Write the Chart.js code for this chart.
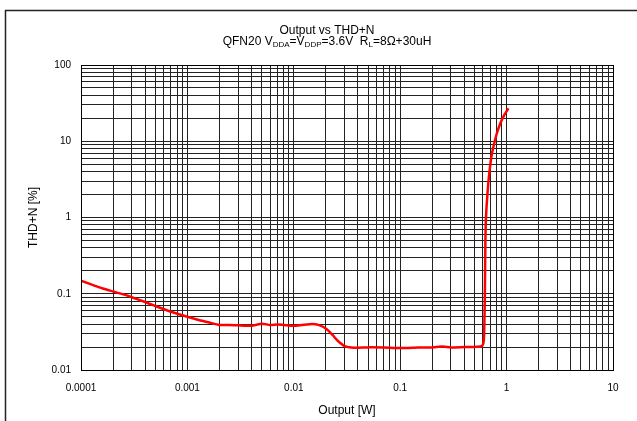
<!DOCTYPE html>
<html>
<head>
<meta charset="utf-8">
<script src="https://cdn.jsdelivr.net/npm/chart.js@4/dist/chart.umd.min.js"></script>
<style>
  html, body { margin: 0; padding: 0; background: #fff; }
  #wrap { width: 637px; height: 421px; position: relative; }
</style>
</head>
<body>
<div id="wrap"><canvas id="chart" width="637" height="421"></canvas></div>
<script>
const outputW = [0.0001, 0.00013, 0.00016, 0.0002, 0.00025, 0.0003, 0.0004, 0.0005, 0.0007, 0.001,
  0.0013, 0.0016, 0.002, 0.0025, 0.003, 0.004, 0.005, 0.006, 0.007, 0.008,
  0.01, 0.012, 0.015, 0.017, 0.02, 0.023, 0.026, 0.03, 0.035, 0.04,
  0.05, 0.07, 0.1, 0.15, 0.2, 0.25, 0.3, 0.4, 0.5, 0.58,
  0.605, 0.615, 0.625, 0.632, 0.64, 0.66, 0.69, 0.73, 0.8, 0.87, 0.95, 1.04];
const thdn = [0.148, 0.13, 0.117, 0.107, 0.098, 0.09, 0.078, 0.069, 0.058, 0.05,
  0.045, 0.042, 0.039, 0.039, 0.0385, 0.038, 0.0405, 0.039, 0.0395, 0.039,
  0.038, 0.039, 0.04, 0.039, 0.035, 0.029, 0.024, 0.0206, 0.0197, 0.0196,
  0.0198, 0.0197, 0.0194, 0.0197, 0.0198, 0.0203, 0.0198, 0.02, 0.0201, 0.0205,
  0.0225, 0.03, 0.1, 0.5, 1.0, 2.0, 4.0, 7.0, 12, 17, 22, 27];

const xDecades = [0.0001, 0.001, 0.01, 0.1, 1, 10];
const xTickLabels = ['0.0001', '0.001', '0.01', '0.1', '1', '10'];
const yDecades = [0.01, 0.1, 1, 10, 100];
const yTickLabels = ['0.01', '0.1', '1', '10', '100'];

const titleLine1 = 'Output vs THD+N';
// [text, isSubscript]
const titleLine2 = [['QFN20 V', false], ['DDA', true], ['=V', false], ['DDP', true],
  ['=3.6V  R', false], ['L', true], ['=8\u03A9+30uH', false]];

const FONT = '"Liberation Sans", Arial, sans-serif';

// 1..9 x 10^n grid ticks, labels only on the decades
function logTicks(decades, labels) {
  const ticks = [];
  decades.forEach((d, i) => {
    if (i === decades.length - 1) {
      ticks.push({ value: d, label: labels[i] });
      return;
    }
    for (let m = 1; m <= 9; m++) {
      ticks.push({ value: parseFloat((m * d).toPrecision(6)), label: m === 1 ? labels[i] : '' });
    }
  });
  return ticks;
}
const xTicks = logTicks(xDecades, xTickLabels);
const yTicks = logTicks(yDecades, yTickLabels);

const frame = {
  id: 'frame',
  beforeDraw(chart) {
    const c = chart.ctx;
    c.save();
    c.fillStyle = '#fff';
    c.fillRect(0, 0, chart.width, chart.height);
    c.strokeStyle = '#222';
    c.lineWidth = 1.5;
    c.strokeRect(5.5, 10.5, 700, 500);
    c.restore();
  },
  afterDraw(chart) {
    const c = chart.ctx;
    const a = chart.chartArea;
    c.save();
    c.strokeStyle = '#000';
    c.lineWidth = 1;
    c.strokeRect(Math.round(a.left) + 0.5, Math.round(a.top) + 0.5,
      Math.round(a.right - a.left), Math.round(a.bottom - a.top));

    // two-line title with subscripts
    const cx = 327;
    c.fillStyle = '#000';
    c.textBaseline = 'middle';
    c.textAlign = 'center';
    c.font = '12px ' + FONT;
    c.fillText(titleLine1, cx, 31);

    c.textAlign = 'left';
    let w = 0;
    titleLine2.forEach(([t, sub]) => {
      c.font = (sub ? '8px ' : '12px ') + FONT;
      w += c.measureText(t).width;
    });
    let x = cx - w / 2;
    titleLine2.forEach(([t, sub]) => {
      c.font = (sub ? '8px ' : '12px ') + FONT;
      c.fillText(t, x, sub ? 45 : 42);
      x += c.measureText(t).width;
    });
    c.restore();
  }
};

new Chart(document.getElementById('chart'), {
  type: 'scatter',
  data: {
    datasets: [{
      data: outputW.map((v, i) => ({ x: v, y: thdn[i] })),
      showLine: true,
      borderColor: '#ff0000',
      borderWidth: 2.5,
      pointRadius: 0,
      tension: 0.2
    }]
  },
  options: {
    responsive: false,
    animation: false,
    layout: { padding: { top: 65, right: 24, left: 0, bottom: 0 } },
    plugins: { legend: { display: false }, tooltip: { enabled: false } },
    scales: {
      x: {
        type: 'logarithmic',
        min: 0.0001,
        max: 10,
        afterBuildTicks: s => { s.ticks = xTicks.map(t => ({ value: t.value })); },
        afterFit: s => { s.height = 51; },
        grid: { color: '#222', lineWidth: 1, drawTicks: false },
        border: { display: false },
        ticks: {
          autoSkip: false,
          maxRotation: 0,
          padding: 12,
          color: '#000',
          font: { family: FONT, size: 10 },
          callback: (v, i) => xTicks[i] ? xTicks[i].label : ''
        },
        title: {
          display: true,
          text: 'Output [W]',
          color: '#000',
          font: { family: FONT, size: 12 },
          padding: { top: 0, bottom: 3 }
        }
      },
      y: {
        type: 'logarithmic',
        min: 0.01,
        max: 100,
        afterBuildTicks: s => { s.ticks = yTicks.map(t => ({ value: t.value })); },
        afterFit: s => { s.width = 81; },
        grid: { color: '#222', lineWidth: 1, drawTicks: false },
        border: { display: false },
        ticks: {
          autoSkip: false,
          padding: 10,
          color: '#000',
          font: { family: FONT, size: 10 },
          callback: (v, i) => yTicks[i] ? yTicks[i].label : ''
        },
        title: {
          display: true,
          text: 'THD+N [%]',
          color: '#000',
          font: { family: FONT, size: 12 },
          padding: { top: 26, bottom: 0 }
        }
      }
    }
  },
  plugins: [frame]
});
</script>
</body>
</html>
